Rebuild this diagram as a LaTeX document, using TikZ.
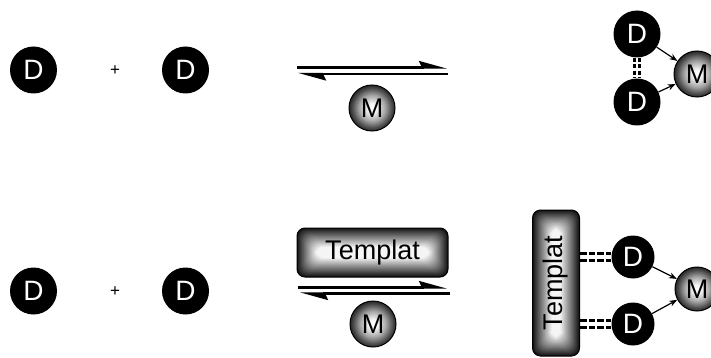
\documentclass[tikz,border=0pt]{standalone}
\usepackage{fontspec}
\usepackage{graphicx}
\setmainfont{Liberation Sans}
\usetikzlibrary{arrows.meta}

% metallic ball shading for the metal centres
\pgfdeclareradialshading{metalball}{\pgfpoint{0bp}{0bp}}{%
  color(0bp)=(white); color(5bp)=(white!96!black); color(14bp)=(black!35);
  color(21bp)=(black!68); color(25bp)=(black!85); color(50bp)=(black!85)}

\tikzset{
  dnode/.style={circle, fill=black, text=white, minimum size=47pt, inner sep=0pt,
    font=\fontsize{28}{28}\selectfont},
  mnode/.style={circle, draw=black, line width=1pt, shading=metalball,
    minimum size=46pt, inner sep=0pt, font=\fontsize{27}{27}\selectfont},
  plus/.style={font=\fontsize{17}{17}\selectfont, inner sep=0pt},
  templat/.style={draw=black, line width=1pt, rounded corners=8pt, inner sep=0pt,
    font=\fontsize{27}{27}\selectfont,
    path picture={
      \foreach \k in {0,...,24}{
        \pgfmathsetmacro\lev{int(4+88*max(0,1-\k/19))}
        \fill[black!\lev, rounded corners=8pt]
          ([shift={(\k*1pt,\k*1pt)}]path picture bounding box.south west)
          rectangle ([shift={(-\k*1pt,-\k*1pt)}]path picture bounding box.north east);
      }}},
  eqline/.style={line width=2.2pt,
    -{Stealth[harpoon, length=24pt, width=13pt, inset=3pt]}},
  bond/.style={line width=1.2pt, -{Stealth[length=8pt, width=6pt]}},
  hbond/.style={line width=2.4pt, dash pattern=on 4pt off 2.5pt},
  tbond/.style={line width=2.8pt, dash pattern=on 6.5pt off 2.2pt},
}

\begin{document}
\begin{tikzpicture}[x={(1pt,0pt)}, y={(0pt,-1pt)}]
  \useasboundingbox (0,0) rectangle (711,358);

  % ---- upper row: free ligands and metal ----
  \node[dnode] (D1) at (33.5,70) {D};
  \node[plus]  (P1) at (115,71) {+};
  \node[dnode] (D2) at (185.5,70) {D};

  \coordinate (a1l) at (297,67.5);
  \coordinate (a1r) at (447,67.5);
  \coordinate (b1l) at (298,74);
  \coordinate (b1r) at (448,74);
  \draw[eqline] (a1l) -- (a1r);
  \draw[eqline] (b1r) -- (b1l);
  \node[mnode] (M1) at (372,108) {M};

  % product: two ligands bound to the metal
  \node[dnode] (D3) at (637,34) {D};
  \node[dnode] (D4) at (637,102) {D};
  \node[mnode] (M2) at (697,74) {M};
  \draw[bond] (D3) -- (M2);
  \draw[bond] (D4) -- (M2);
  \draw[hbond] ([xshift=-2.6pt]D3.south) -- ([xshift=-2.6pt]D4.north);
  \draw[hbond] ([xshift=2.6pt]D3.south) -- ([xshift=2.6pt]D4.north);

  % ---- lower row: template-assisted assembly ----
  \node[dnode] (D5) at (33.5,291) {D};
  \node[plus]  (P2) at (115,292) {+};
  \node[dnode] (D6) at (185.5,291) {D};

  \node[templat, minimum width=151pt, minimum height=49pt] (T1) at (372.5,252.5) {Templat};
  \coordinate (a2l) at (298,287.5);
  \coordinate (a2r) at (447,287.5);
  \coordinate (b2l) at (300,293.5);
  \coordinate (b2r) at (450,293.5);
  \draw[eqline] (a2l) -- (a2r);
  \draw[eqline] (b2r) -- (b2l);
  \node[mnode] (M3) at (373,324) {M};

  \node[templat, minimum width=47pt, minimum height=146pt] (T2) at (556,283)
    {\rotatebox{90}{Templat}};
  \node[dnode, minimum size=43pt] (D7) at (633,257) {D};
  \node[dnode, minimum size=43pt] (D8) at (633,324) {D};
  \node[mnode, minimum size=44pt] (M4) at (697,289) {M};
  \draw[bond] (D7) -- (M4);
  \draw[bond] (D8) -- (M4);
  \draw[tbond] ([yshift=3.3pt]T2.east |- D7) -- ([yshift=3.3pt]D7.west);
  \draw[tbond] ([yshift=-3.3pt]T2.east |- D7) -- ([yshift=-3.3pt]D7.west);
  \draw[tbond] ([yshift=3.3pt]T2.east |- D8) -- ([yshift=3.3pt]D8.west);
  \draw[tbond] ([yshift=-3.3pt]T2.east |- D8) -- ([yshift=-3.3pt]D8.west);
\end{tikzpicture}
\end{document}
